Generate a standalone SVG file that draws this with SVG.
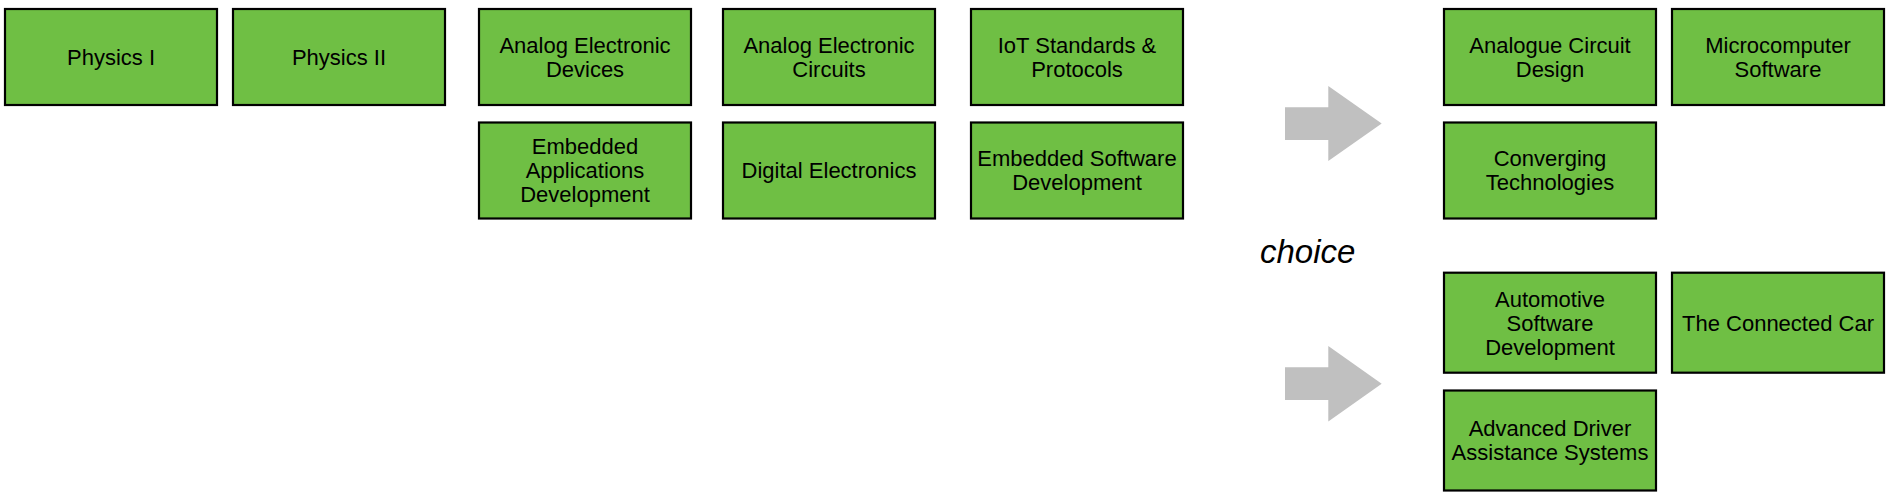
<svg xmlns="http://www.w3.org/2000/svg" width="1898" height="500" viewBox="0 0 1898 500">
<style>
.box{fill:#6FBF44;stroke:#000;stroke-width:2.2}
.lbl{font-family:"Liberation Sans",Arial,sans-serif;font-size:22px;fill:#000;text-anchor:middle}
.arr{fill:#C0C0C0}
.choice{font-family:"Liberation Sans",Arial,sans-serif;font-size:33px;font-style:italic;fill:#000}
</style>
<rect width="1898" height="500" fill="#fff"/>
<g id="connectors">
<polygon class="arr" points="1285,107.3 1328.3,107.3 1328.3,86 1381.7,123.5 1328.3,161 1328.3,140 1285,140"/>
<polygon class="arr" points="1285,367.3 1328.3,367.3 1328.3,346 1381.7,383.7 1328.3,421.5 1328.3,400 1285,400"/>
</g>
<text class="choice" x="1260" y="262.5">choice</text>
<g id="physics1"><rect class="box" x="5" y="9" width="212" height="96"/><text class="lbl" x="111" y="64.8">Physics I</text></g>
<g id="physics2"><rect class="box" x="233" y="9" width="212" height="96"/><text class="lbl" x="339" y="64.8">Physics II</text></g>
<g id="aed"><rect class="box" x="479" y="9" width="212" height="96"/><text class="lbl" x="585" y="52.8">Analog Electronic</text><text class="lbl" x="585" y="76.8">Devices</text></g>
<g id="aec"><rect class="box" x="723" y="9" width="212" height="96"/><text class="lbl" x="829" y="52.8">Analog Electronic</text><text class="lbl" x="829" y="76.8">Circuits</text></g>
<g id="iot"><rect class="box" x="971" y="9" width="212" height="96"/><text class="lbl" x="1077" y="52.8">IoT Standards &amp;</text><text class="lbl" x="1077" y="76.8">Protocols</text></g>
<g id="ead"><rect class="box" x="479" y="122.5" width="212" height="96"/><text class="lbl" x="585" y="154.3">Embedded</text><text class="lbl" x="585" y="178.3">Applications</text><text class="lbl" x="585" y="202.3">Development</text></g>
<g id="de"><rect class="box" x="723" y="122.5" width="212" height="96"/><text class="lbl" x="829" y="178.3">Digital Electronics</text></g>
<g id="esd"><rect class="box" x="971" y="122.5" width="212" height="96"/><text class="lbl" x="1077" y="166.3">Embedded Software</text><text class="lbl" x="1077" y="190.3">Development</text></g>
<g id="acd"><rect class="box" x="1444" y="9" width="212" height="96"/><text class="lbl" x="1550" y="52.8">Analogue Circuit</text><text class="lbl" x="1550" y="76.8">Design</text></g>
<g id="ms"><rect class="box" x="1672" y="9" width="212" height="96"/><text class="lbl" x="1778" y="52.8">Microcomputer</text><text class="lbl" x="1778" y="76.8">Software</text></g>
<g id="ct"><rect class="box" x="1444" y="122.5" width="212" height="96"/><text class="lbl" x="1550" y="166.3">Converging</text><text class="lbl" x="1550" y="190.3">Technologies</text></g>
<g id="asd"><rect class="box" x="1444" y="272.7" width="212" height="100"/><text class="lbl" x="1550" y="306.5">Automotive</text><text class="lbl" x="1550" y="330.5">Software</text><text class="lbl" x="1550" y="354.5">Development</text></g>
<g id="tcc"><rect class="box" x="1672" y="272.7" width="212" height="100"/><text class="lbl" x="1778" y="330.5">The Connected Car</text></g>
<g id="adas"><rect class="box" x="1444" y="390.5" width="212" height="100"/><text class="lbl" x="1550" y="436.3">Advanced Driver</text><text class="lbl" x="1550" y="460.3">Assistance Systems</text></g>
</svg>
